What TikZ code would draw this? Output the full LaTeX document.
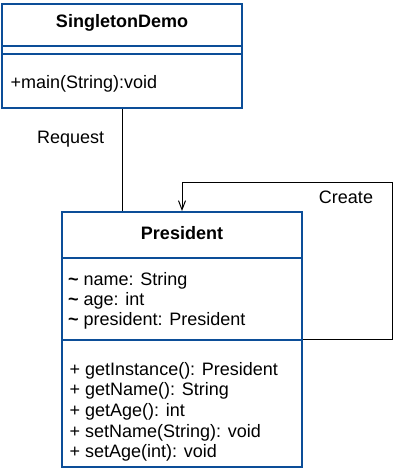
\documentclass[tikz,border=0pt]{standalone}
\usepackage{fontspec}
\setmainfont{Liberation Sans}
\usetikzlibrary{arrows.meta}
\definecolor{umlblue}{RGB}{12,78,152}
\newcommand{\umltilde}{\textbf{\char"7E}}
\tikzset{
  umlbox/.style={draw=umlblue, line width=2pt, fill=white, inner sep=0pt, rectangle},
  sepline/.style={draw=umlblue, line width=1.6pt},
  txt/.style={inner sep=0pt, anchor=base west, font=\fontsize{18}{20}\selectfont},
  ttl/.style={inner sep=0pt, anchor=base, font=\fontsize{18}{20}\selectfont\bfseries},
  lbl/.style={inner sep=0pt, anchor=base, font=\fontsize{18}{20}\selectfont},
  conn/.style={draw=black, line width=1pt},
}
\begin{document}
\begin{tikzpicture}[x=1pt,y=-1pt]
\useasboundingbox (0,0) rectangle (405,471);
% SingletonDemo class
\node[umlbox, minimum width=240pt, minimum height=104pt] (sd) at (122,55.5) {};
\draw[sepline] (sd.west |- 0,46) -- (sd.east |- 0,46);
\draw[sepline] (sd.west |- 0,54) -- (sd.east |- 0,54);
\node[ttl] (sdname) at (122,27.3) {SingletonDemo};
\node[txt] (sdm1) at (10.5,88.3) {+main(String):void};
% President class
\node[umlbox, minimum width=240pt, minimum height=255pt] (pr) at (182,339.5) {};
\draw[sepline] (pr.west |- 0,258) -- (pr.east |- 0,258);
\draw[sepline] (pr.west |- 0,340) -- (pr.east |- 0,340);
\node[ttl] (prname) at (182,239) {President};
\node[txt] (pa1) at (68,285) {\umltilde{} name: String};
\node[txt] (pa2) at (68,305.3) {\umltilde{} age: int};
\node[txt] (pa3) at (68,325.6) {\umltilde{} president: President};
\node[txt] (pm1) at (69.5,375) {+ getInstance(): President};
\node[txt] (pm2) at (69.5,395.7) {+ getName(): String};
\node[txt] (pm3) at (69.5,416.4) {+ getAge(): int};
\node[txt] (pm4) at (69.5,437.1) {+ setName(String): void};
\node[txt] (pm5) at (69.5,457.8) {+ setAge(int): void};
% connectors
\coordinate (cturn) at (392,182);
\draw[conn] (sd.south) -- (sd.south |- pr.north);
\draw[conn, -{Straight Barb[length=9pt,width=7pt]}] (pr.east |- 0,339) -| (cturn) -| (pr.north);
\node[lbl] (req) at (70.7,143.3) {Request};
\node[lbl] (cre) at (346,203.3) {Create};
\end{tikzpicture}
\end{document}
